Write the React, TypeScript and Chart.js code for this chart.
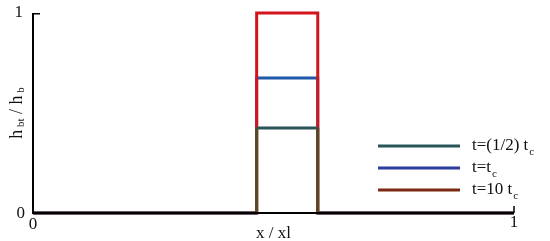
import React, { useEffect, useRef } from "react";
import { Chart, registerables } from "chart.js";

Chart.register(...registerables);

const xPoints = [0, 0.465, 0.465, 0.592, 0.592, 1];
const halfTc = [0, 0, 0.425, 0.425, 0, 0];
const oneTc = [0, 0, 0.675, 0.675, 0, 0];
const tenTc = [0, 0, 1, 1, 0, 0];
const xTicks = [0, 1];
const yTicks = [0, 1];
const seriesNames = ["t=(1/2) t", "t=t", "t=10 t"];
const legendColors = ["#2a5558", "#2c3c9e", "#7a2a12"];

const FONT = '"Liberation Serif", "DejaVu Serif", serif';

function toPts(ys: number[]) {
  return ys.map((y, i) => ({ x: xPoints[i], y }));
}

const overlay = {
  id: "overlay",
  afterDatasetsDraw(chart: any) {
    const ctx = chart.ctx;
    const xs = chart.scales.x;
    const ys = chart.scales.y;
    const area = chart.chartArea;
    ctx.save();
    // axes
    ctx.strokeStyle = "#000";
    ctx.lineWidth = 2;
    ctx.beginPath();
    ctx.moveTo(area.left, area.top);
    ctx.lineTo(area.left, area.bottom);
    ctx.lineTo(area.right, area.bottom);
    ctx.stroke();
    // inward ticks
    ctx.lineWidth = 1.5;
    ctx.beginPath();
    ctx.moveTo(area.left, ys.getPixelForValue(yTicks[1]) + 0.75);
    ctx.lineTo(area.left + 7, ys.getPixelForValue(yTicks[1]) + 0.75);
    ctx.moveTo(xs.getPixelForValue(xTicks[1]), area.bottom);
    ctx.lineTo(xs.getPixelForValue(xTicks[1]), area.bottom - 7);
    ctx.stroke();

    ctx.fillStyle = "#111";
    ctx.font = `17px ${FONT}`;
    ctx.textBaseline = "middle";
    // y tick labels
    ctx.textAlign = "right";
    ctx.fillText(String(yTicks[1]), area.left - 10, ys.getPixelForValue(yTicks[1]));
    ctx.fillText(String(yTicks[0]), area.left - 8, ys.getPixelForValue(yTicks[0]) + 1);
    // x tick labels
    ctx.textAlign = "center";
    ctx.fillText(String(xTicks[0]), xs.getPixelForValue(xTicks[0]), area.bottom + 12);
    ctx.fillText(String(xTicks[1]), xs.getPixelForValue(xTicks[1]), area.bottom + 10);
    // x title
    ctx.fillText("x / xl", (area.left + area.right) / 2, area.bottom + 21);

    // y title rotated with subscripts
    ctx.save();
    ctx.translate(17, (area.top + area.bottom) / 2);
    ctx.rotate(-Math.PI / 2);
    ctx.textAlign = "left";
    const parts: [string, number, number][] = [
      ["h", 18, 0],
      [" bt", 11, 4],
      [" / h", 18, 0],
      [" b", 11, 4],
    ];
    let total = 0;
    parts.forEach(([t, s]) => {
      ctx.font = `${s}px ${FONT}`;
      total += ctx.measureText(t).width;
    });
    let cx = -total / 2;
    parts.forEach(([t, s, dy]) => {
      ctx.font = `${s}px ${FONT}`;
      ctx.fillText(t, cx, dy);
      cx += ctx.measureText(t).width;
    });
    ctx.restore();

    // legend
    const lx0 = 378;
    const lx1 = 460;
    const rowY = [146, 168, 190];
    seriesNames.forEach((name, i) => {
      ctx.strokeStyle = legendColors[i];
      ctx.lineWidth = 3;
      ctx.beginPath();
      ctx.moveTo(lx0, rowY[i]);
      ctx.lineTo(lx1, rowY[i]);
      ctx.stroke();
      ctx.fillStyle = "#111";
      ctx.textAlign = "left";
      ctx.font = `17px ${FONT}`;
      ctx.fillText(name, 472, rowY[i]);
      const w = ctx.measureText(name).width;
      ctx.font = `11px ${FONT}`;
      ctx.fillText("c", 472 + w + 1, rowY[i] + 6);
    });
    ctx.restore();
  },
};

export default function App() {
  const ref = useRef<HTMLCanvasElement>(null);
  useEffect(() => {
    document.body.style.margin = "0";
    const chart = new Chart(ref.current!, {
      type: "line",
      data: {
        datasets: [
          {
            label: "t=(1/2) t_c",
            data: toPts(halfTc),
            borderColor: "#2a5558",
            borderWidth: 3,
            pointRadius: 0,
            order: 0,
            clip: false,
            segment: {
              borderColor: (c: any) =>
                c.p0.parsed.x === c.p1.parsed.x ? "#5a4a22" : "#2a5558",
            },
          },
          {
            label: "t=t_c",
            data: toPts(oneTc),
            borderColor: "#1f5aa8",
            borderWidth: 3,
            pointRadius: 0,
            order: 2,
            clip: false,
          },
          {
            label: "t=10 t_c",
            data: toPts(tenTc),
            borderColor: "#d4141c",
            borderWidth: 3,
            pointRadius: 0,
            order: 1,
            clip: false,
          },
        ],
      },
      options: {
        animation: false,
        responsive: false,
        maintainAspectRatio: false,
        layout: { padding: { left: 33, right: 36, top: 13, bottom: 28 } },
        plugins: { legend: { display: false }, tooltip: { enabled: false } },
        elements: { line: { tension: 0 } },
        scales: {
          x: {
            type: "linear",
            min: 0,
            max: 1,
            grid: { display: false, drawTicks: false },
            border: { display: false },
            ticks: { display: false },
          },
          y: {
            type: "linear",
            min: 0,
            max: 1,
            grid: { display: false, drawTicks: false },
            border: { display: false },
            ticks: { display: false },
          },
        },
      },
      plugins: [overlay],
    } as any);
    return () => chart.destroy();
  }, []);
  return (
    <div style={{ position: "absolute", left: 0, top: 0, width: 550, height: 241, background: "#fff" }}>
      <canvas ref={ref} width={550} height={241} style={{ width: 550, height: 241 }} />
    </div>
  );
}
